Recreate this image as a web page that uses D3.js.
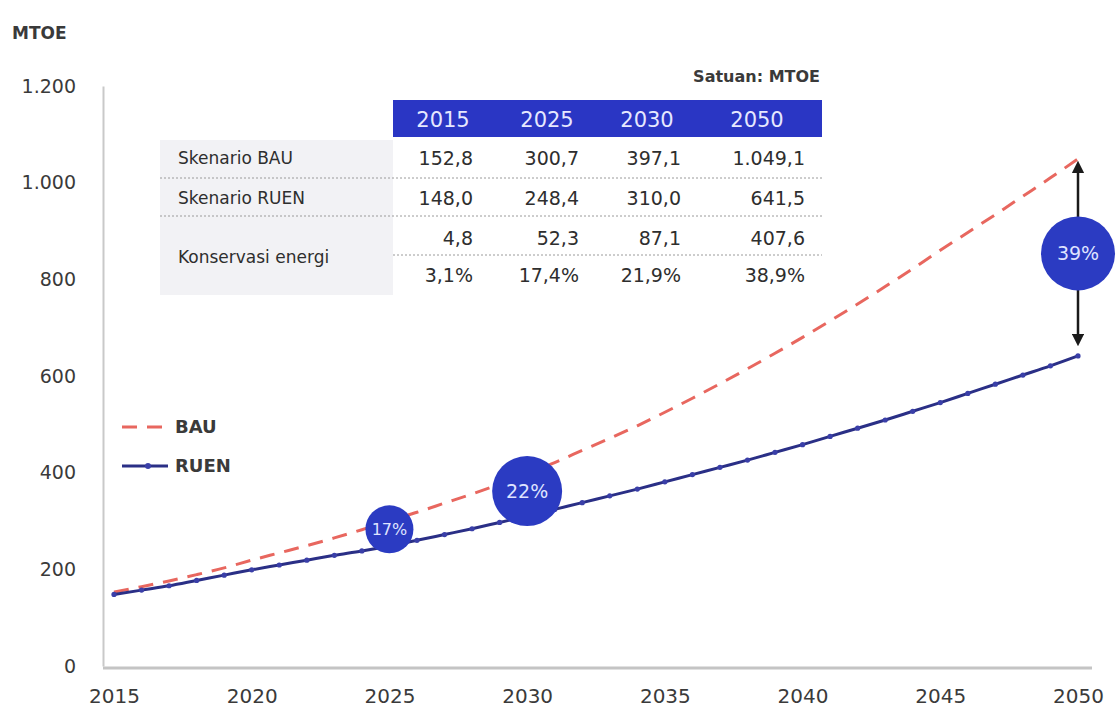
<!DOCTYPE html>
<html>
<head>
<meta charset="utf-8">
<script src="https://cdn.jsdelivr.net/npm/d3@7"></script>
<style>
  html, body { margin: 0; padding: 0; background: #fff; }
  svg { display: block; }
  text { font-family: "DejaVu Sans", sans-serif; }
</style>
</head>
<body>
<svg id="chart" width="1118" height="715"></svg>
<script>
// Energy demand projection (MTOE), BAU vs RUEN scenarios
const years = d3.range(2015, 2051);
const bauValues = [152.8, 164, 176, 189, 203, 219, 234, 249, 265, 282, 300.7,
  318, 337, 356, 376, 397.1, 421, 446, 471, 497, 525,
  554, 584, 615, 647, 680, 714, 749, 785, 822, 860,
  897, 934, 972, 1010, 1049.1];
const ruenValues = [148.0, 157, 166, 177, 188, 199, 209, 219, 229, 238, 248.4,
  260, 272, 284, 297, 310.0, 324, 338, 352, 366, 381,
  396, 411, 426, 442, 458, 475, 492, 509, 527, 545,
  564, 583, 602, 621, 641.5];
const yTicks = [0, 200, 400, 600, 800, 1000, 1200];
const xTicks = [2015, 2020, 2025, 2030, 2035, 2040, 2045, 2050];
const yTickLabels = ["0", "200", "400", "600", "800", "1.000", "1.200"];

// Savings bubbles
const bubbleYears = [2025, 2030, 2050];
const bubbleLabels = ["17%", "22%", "39%"];
const bubbleRadii = [24, 35, 37];

// Summary table
const tableYears = ["2015", "2025", "2030", "2050"];
const rowBAU = ["152,8", "300,7", "397,1", "1.049,1"];
const rowRUEN = ["148,0", "248,4", "310,0", "641,5"];
const rowSaving = ["4,8", "52,3", "87,1", "407,6"];
const rowSavingPct = ["3,1%", "17,4%", "21,9%", "38,9%"];

const svg = d3.select("#chart");
const x = d3.scaleLinear().domain([2015, 2050]).range([114, 1078]);
const y = d3.scaleLinear().domain([0, 1200]).range([666, 86]);

const blue = "#2b3bc2";
const navy = "#2a2f86";
const red = "#e8675f";
const textCol = "#3a3a3a";
const numFont = "\"DejaVu Sans\", sans-serif";
const labelFont = "Roboto, sans-serif";

// Axis unit
svg.append("text").attr("x", 12).attr("y", 39).text("MTOE")
  .attr("font-family", labelFont)
  .attr("font-size", 17).attr("font-weight", "bold").attr("fill", textCol);

// Y axis
const yAxis = svg.append("g").attr("transform", "translate(103,0)")
  .call(d3.axisLeft(y).tickValues(yTicks).tickSize(0).tickPadding(27)
    .tickFormat((d, i) => yTickLabels[i]));
yAxis.select(".domain").attr("stroke", "#c9c9c9").attr("stroke-width", 2);
yAxis.selectAll("text").attr("font-size", 19).attr("fill", textCol)
  .attr("font-family", numFont);

// X axis
const xAxis = svg.append("g").attr("transform", "translate(0,668)")
  .call(d3.axisBottom(x).tickValues(xTicks).tickSize(0).tickPadding(21)
    .tickFormat(d3.format("d")));
xAxis.select(".domain").attr("stroke", "#c4c4c4").attr("stroke-width", 3)
  .attr("d", "M103,0H1092");
xAxis.selectAll("text").attr("font-size", 20).attr("fill", textCol)
  .attr("font-family", numFont);

// Series
const line = d3.line().x((d, i) => x(years[i])).y(d => y(d)).curve(d3.curveMonotoneX);

svg.append("path").datum(bauValues).attr("d", line)
  .attr("fill", "none").attr("stroke", red).attr("stroke-width", 3)
  .attr("stroke-dasharray", "15,10");

svg.append("path").datum(ruenValues).attr("d", line)
  .attr("fill", "none").attr("stroke", navy).attr("stroke-width", 3);

svg.append("g").selectAll("circle").data(ruenValues).join("circle")
  .attr("cx", (d, i) => x(years[i])).attr("cy", d => y(d)).attr("r", 2.6)
  .attr("fill", "#3a3fa8");

const valueAt = (arr, yr) => arr[years.indexOf(yr)];

// Double arrow at 2050
const defs = svg.append("defs");
defs.append("marker").attr("id", "arrowhead").attr("viewBox", "0 0 10 10")
  .attr("refX", 5).attr("refY", 5).attr("markerWidth", 5).attr("markerHeight", 5)
  .attr("orient", "auto-start-reverse")
  .append("path").attr("d", "M0,0L10,5L0,10Z").attr("fill", "#1a1a1a");
svg.append("line")
  .attr("x1", x(2050)).attr("x2", x(2050))
  .attr("y1", y(valueAt(bauValues, 2050)) + 8)
  .attr("y2", y(valueAt(ruenValues, 2050)) - 16)
  .attr("stroke", "#1a1a1a").attr("stroke-width", 2.5)
  .attr("marker-start", "url(#arrowhead)").attr("marker-end", "url(#arrowhead)");

// Bubbles between the two scenarios
const bubbles = svg.append("g").selectAll("g").data(bubbleYears).join("g")
  .attr("transform", d => {
    const cy = (y(valueAt(bauValues, d)) + y(valueAt(ruenValues, d))) / 2;
    return `translate(${x(d)},${cy - 4})`;
  });
bubbles.append("circle").attr("r", (d, i) => bubbleRadii[i]).attr("fill", blue);
bubbles.append("text").text((d, i) => bubbleLabels[i])
  .attr("font-family", labelFont)
  .attr("text-anchor", "middle").attr("dy", "0.36em")
  .attr("font-size", (d, i) => i === 0 ? 16 : 19).attr("fill", "#dfe3ff");

// Legend
const legend = svg.append("g");
legend.append("line").attr("x1", 122).attr("x2", 168).attr("y1", 427).attr("y2", 427)
  .attr("stroke", red).attr("stroke-width", 3).attr("stroke-dasharray", "15,10");
legend.append("text").attr("x", 175).attr("y", 427).attr("dy", "0.35em").text("BAU")
  .attr("font-size", 18).attr("font-weight", "bold").attr("fill", textCol)
  .attr("font-family", labelFont);
legend.append("line").attr("x1", 122).attr("x2", 168).attr("y1", 466).attr("y2", 466)
  .attr("stroke", navy).attr("stroke-width", 3);
legend.append("circle").attr("cx", 148).attr("cy", 466).attr("r", 3).attr("fill", "#3a3fa8");
legend.append("text").attr("x", 175).attr("y", 466).attr("dy", "0.35em").text("RUEN")
  .attr("font-size", 18).attr("font-weight", "bold").attr("fill", textCol)
  .attr("font-family", labelFont);

// Table
const tbl = svg.append("g");
const colRight = [473, 579, 681, 805];
const colCenter = [443, 547, 647, 757];
tbl.append("rect").attr("x", 160).attr("y", 140).attr("width", 233).attr("height", 155)
  .attr("fill", "#f2f2f5");
tbl.append("text").attr("x", 820).attr("y", 82).attr("text-anchor", "end")
  .text("Satuan: MTOE").attr("font-size", 16).attr("font-weight", "bold")
  .attr("font-family", labelFont).attr("fill", textCol);
tbl.append("rect").attr("x", 393).attr("y", 100).attr("width", 429).attr("height", 37)
  .attr("fill", "#2a36c4");
tbl.selectAll("text.hdr").data(tableYears).join("text").attr("class", "hdr")
  .attr("x", (d, i) => colCenter[i]).attr("y", 119).attr("dy", "0.36em")
  .attr("text-anchor", "middle").text(d => d)
  .attr("font-family", numFont)
  .attr("font-size", 21).attr("fill", "#e6e8ff");

const rows = [
  { label: "Skenario BAU", vals: rowBAU, y: 158 },
  { label: "Skenario RUEN", vals: rowRUEN, y: 198 },
  { label: null, vals: rowSaving, y: 238 },
  { label: null, vals: rowSavingPct, y: 275 }
];
rows.forEach(r => {
  if (r.label) {
    tbl.append("text").attr("x", 178).attr("y", r.y).attr("dy", "0.36em")
      .text(r.label).attr("font-size", 17).attr("font-weight", 500)
      .attr("font-family", labelFont).attr("fill", "#2e2e2e");
  }
  tbl.selectAll(null).data(r.vals).join("text")
    .attr("x", (d, i) => colRight[i]).attr("y", r.y).attr("dy", "0.36em")
    .attr("text-anchor", "end").text(d => d)
    .attr("font-family", numFont)
    .attr("font-size", 19).attr("fill", "#2e2e2e");
});
tbl.append("text").attr("x", 178).attr("y", 257).attr("dy", "0.36em")
  .text("Konservasi energi").attr("font-size", 17).attr("font-weight", 500)
  .attr("font-family", labelFont).attr("fill", "#2e2e2e");

// Row separators
[[160, 178], [160, 216]].forEach(([x0, yy]) => {
  tbl.append("line").attr("x1", x0).attr("x2", 822).attr("y1", yy).attr("y2", yy)
    .attr("stroke", "#9a9a9a").attr("stroke-width", 1).attr("stroke-dasharray", "2,2");
});
tbl.append("line").attr("x1", 393).attr("x2", 822).attr("y1", 255).attr("y2", 255)
  .attr("stroke", "#9a9a9a").attr("stroke-width", 1).attr("stroke-dasharray", "2,2");
</script>
</body>
</html>
